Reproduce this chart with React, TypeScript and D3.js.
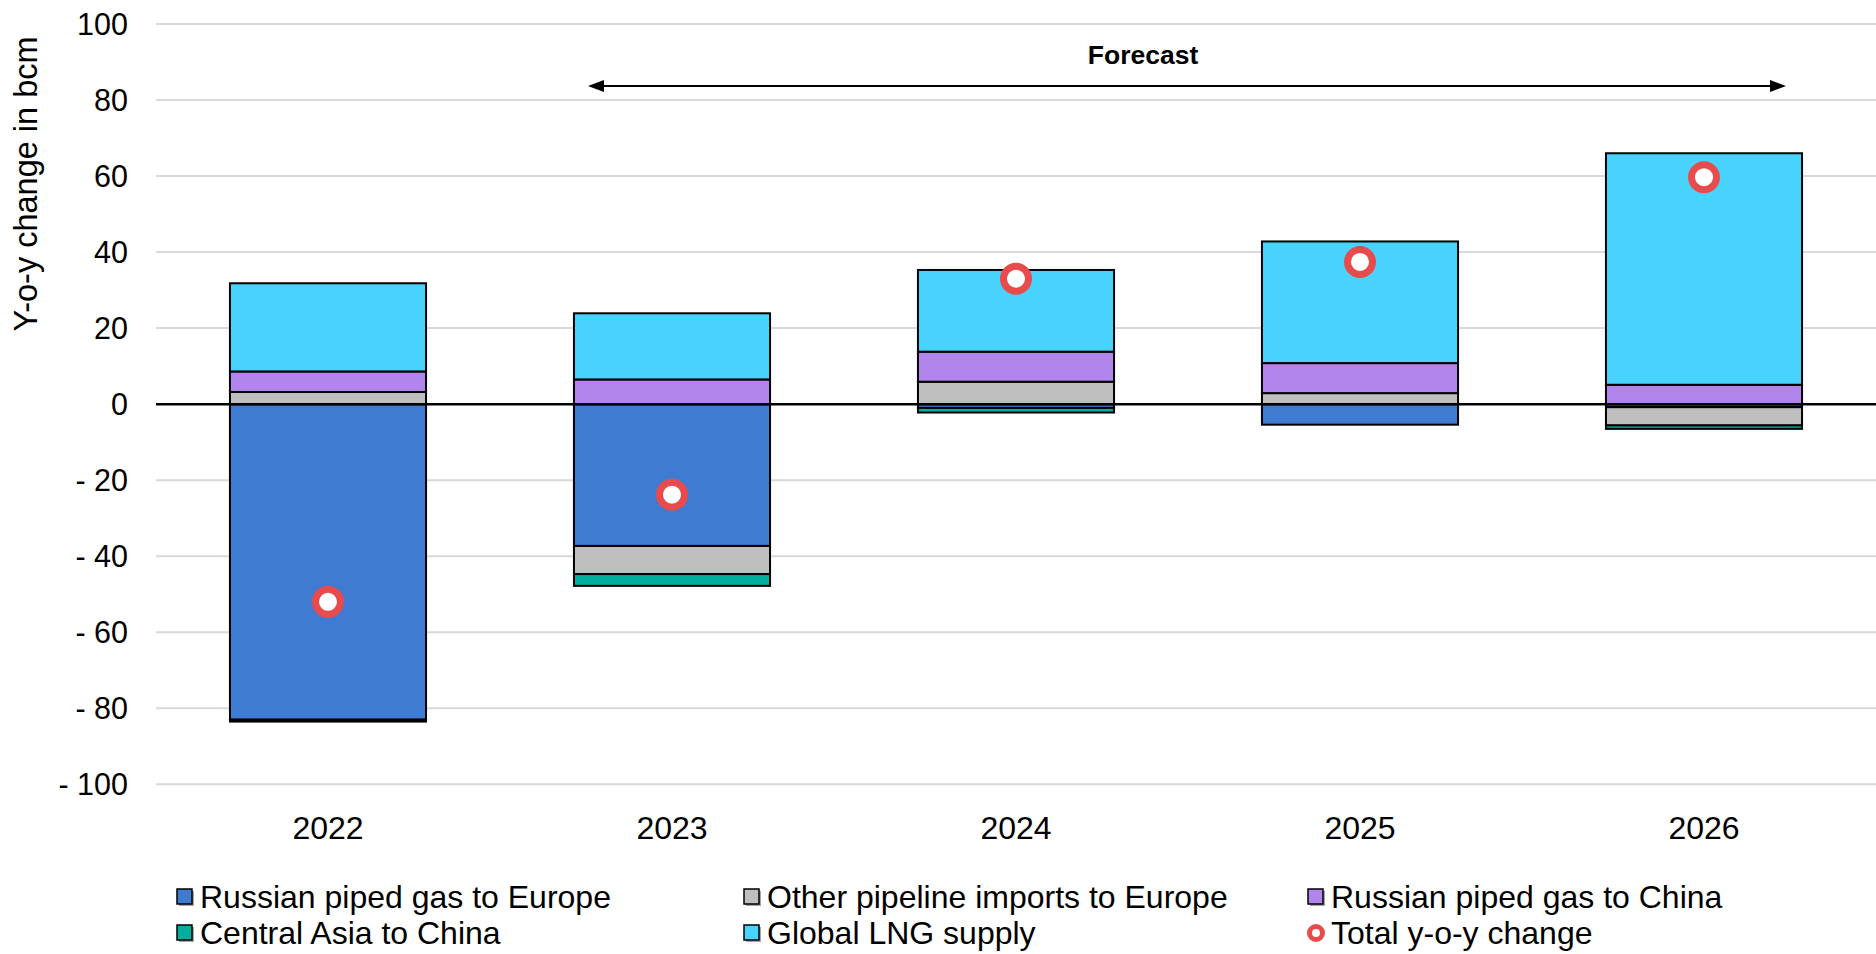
import React from 'react';
import * as d3 from 'd3';

const years = ['2022', '2023', '2024', '2025', '2026'];
const russianEurope = [-83.0, -37.3, -1.0, -5.4, -0.8];
const otherPipeline = [3.2, -7.4, 5.9, 2.9, -4.8];
const russianChina = [5.4, 6.5, 7.9, 7.9, 5.1];
const centralAsia = [-0.5, -3.1, -1.2, 0, -0.9];
const globalLng = [23.2, 17.4, 21.5, 32.0, 60.9];
const totals = [-52.0, -23.8, 33.0, 37.4, 59.7];
const yTicks = [100, 80, 60, 40, 20, 0, -20, -40, -60, -80, -100];

const seriesKeys = ['re', 'op', 'rc', 'ca', 'lng'];
const seriesNames: Record<string, string> = {
  re: 'Russian piped gas to Europe',
  op: 'Other pipeline imports to Europe',
  rc: 'Russian piped gas to China',
  ca: 'Central Asia to China',
  lng: 'Global LNG supply',
};
const seriesColors: Record<string, string> = {
  re: '#3E7BD1',
  op: '#BFBFBF',
  rc: '#B285EC',
  ca: '#00AE9E',
  lng: '#48D3FF',
};

const W = 1876;
const H = 954;
const FONT = 'Arial, "Liberation Sans", sans-serif';

export default function App() {
  const rows = years.map((y, i) => ({
    year: y,
    re: russianEurope[i],
    op: otherPipeline[i],
    rc: russianChina[i],
    ca: centralAsia[i],
    lng: globalLng[i],
  }));
  const stack = d3.stack<any>().keys(seriesKeys).offset(d3.stackOffsetDiverging);
  const layers = stack(rows);

  const x = d3.scaleBand<string>().domain(years).range([156, 1876]).paddingInner(0.43).paddingOuter(0.215);
  const y = d3.scaleLinear().domain([-100, 100]).range([784.3, 24]);

  const arrowY = 86;
  const ax0 = 588;
  const ax1 = 1786;

  const legendItems = [
    { key: 're', x: 177, y: 897 },
    { key: 'op', x: 744, y: 897 },
    { key: 'rc', x: 1308, y: 897 },
    { key: 'ca', x: 177, y: 933 },
    { key: 'lng', x: 744, y: 933 },
  ];

  return (
    <svg width={W} height={H} style={{ position: 'absolute', left: 0, top: 0, background: '#fff' }} fontFamily={FONT}>
      {yTicks.filter((t) => t !== 0).map((t) => (
        <line key={t} x1={156} x2={1876} y1={y(t)} y2={y(t)} stroke="#D9D9D9" strokeWidth={2} />
      ))}
      {yTicks.map((t) => (
        <text key={'l' + t} x={128} y={y(t)} textAnchor="end" dominantBaseline="central" fontSize={30.5} fill="#000">
          {t < 0 ? '- ' + Math.abs(t) : String(t)}
        </text>
      ))}
      <text
        transform={`translate(26,184) rotate(-90)`}
        textAnchor="middle"
        dominantBaseline="central"
        fontSize={32.5}
        fill="#000"
      >
        Y-o-y change in bcm
      </text>
      {layers.map((layer) =>
        layer.map((d, i) => {
          const y0 = y(d[0]);
          const y1 = y(d[1]);
          const h = Math.abs(y0 - y1);
          if (h < 0.01) return null;
          return (
            <rect
              key={layer.key + i}
              x={x(years[i])}
              width={x.bandwidth()}
              y={Math.min(y0, y1)}
              height={h}
              fill={seriesColors[layer.key]}
              stroke="#000"
              strokeWidth={2}
            />
          );
        })
      )}
      <line x1={156} x2={1876} y1={y(0)} y2={y(0)} stroke="#000" strokeWidth={2.5} />
      {totals.map((t, i) => (
        <circle
          key={'t' + i}
          cx={(x(years[i]) as number) + x.bandwidth() / 2}
          cy={y(t)}
          r={12.5}
          fill="#fff"
          stroke="#E84B4B"
          strokeWidth={7}
        />
      ))}
      {years.map((yr) => (
        <text
          key={'x' + yr}
          x={(x(yr) as number) + x.bandwidth() / 2}
          y={828}
          textAnchor="middle"
          dominantBaseline="central"
          fontSize={32}
          fill="#000"
        >
          {yr}
        </text>
      ))}
      <line x1={ax0 + 14} x2={ax1 - 14} y1={arrowY} y2={arrowY} stroke="#000" strokeWidth={2} />
      <path d={`M${ax0},${arrowY} L${ax0 + 16},${arrowY - 6} L${ax0 + 16},${arrowY + 6} Z`} fill="#000" />
      <path d={`M${ax1},${arrowY} L${ax1 - 16},${arrowY - 6} L${ax1 - 16},${arrowY + 6} Z`} fill="#000" />
      <text x={1143} y={55} textAnchor="middle" dominantBaseline="central" fontSize={26.5} fontWeight="bold" fill="#000">
        Forecast
      </text>
      {legendItems.map((it) => (
        <g key={'lg' + it.key}>
          <rect x={it.x + 2} y={it.y - 6} width={15} height={15} fill="#A6A6A6" />
          <rect x={it.x} y={it.y - 8} width={15} height={15} fill={seriesColors[it.key]} stroke="#000" strokeWidth={1.5} />
          <text x={it.x + 23} y={it.y} dominantBaseline="central" fontSize={32} fill="#000">
            {seriesNames[it.key]}
          </text>
        </g>
      ))}
      <g>
        <circle cx={1316} cy={933} r={6.5} fill="#fff" stroke="#E84B4B" strokeWidth={5} />
        <text x={1331} y={933} dominantBaseline="central" fontSize={32} fill="#000">
          Total y-o-y change
        </text>
      </g>
    </svg>
  );
}
